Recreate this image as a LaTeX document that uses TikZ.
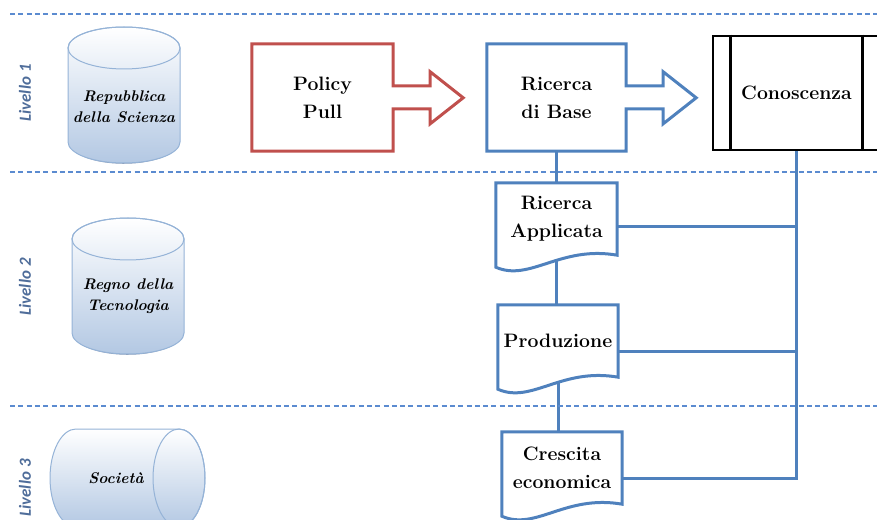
\documentclass[tikz,border=0pt]{standalone}
\usepackage{fontspec}
\newfontfamily\levelfont{Carlito}
\usetikzlibrary{positioning,calc,backgrounds}
\definecolor{lineblue}{HTML}{4F81BD}
\definecolor{pullred}{HTML}{C0504D}
\definecolor{sepblue}{HTML}{5B8BD0}
\definecolor{cylblue}{HTML}{B3C8E3}
\definecolor{cyledge}{HTML}{95B3D7}
\definecolor{cylshadow}{HTML}{8C9DB8}
\definecolor{levelgray}{HTML}{4F6D9A}

\begin{document}
\begin{tikzpicture}[x=1bp, y=-1bp, font=\bfseries\fontsize{19.5}{28}\selectfont,
  levelsep/.style={draw=sepblue, line width=1.2bp, dash pattern=on 5bp off 3.3bp},
  levellabel/.style={rotate=90, text=levelgray,
                     font=\levelfont\bfseries\itshape\fontsize{17}{17}\selectfont},
  cyl/.style={top color=white, bottom color=cylblue, draw=cyledge, line width=1bp},
  cyltext/.style={font=\bfseries\itshape\fontsize{15.5}{21}\selectfont, align=center},
  box/.style={minimum width=#1, minimum height=72bp, align=center, inner sep=0pt},
  blockarr/.style={draw=#1, line width=3bp},
  docline/.style={draw=lineblue, line width=3bp, fill=white},
  conn/.style={draw=lineblue, line width=3bp},
]
\useasboundingbox (0,0) rectangle (877,520);
% level separators
\foreach \y in {14,172,406}
  \draw[levelsep] (10,\y) -- (877,\y);
\node[levellabel] (liv1) at (25,93) {Livello 1};
\node[levellabel] (liv2) at (25,287) {Livello 2};
\node[levellabel] (liv3) at (25,488) {Livello 3};

% cylinders
\foreach \cx/\cy in {124/95, 128/286} {
  \draw[cylshadow, line width=1.2bp] (\cx-54,\cy+49)
    arc[start angle=175, end angle=5, x radius=54, y radius=21];
  \path[cyl] (\cx-56,\cy-47) -- (\cx-56,\cy+47)
    arc[start angle=180, end angle=0, x radius=56, y radius=21]
    -- (\cx+56,\cy-47)
    arc[start angle=0, end angle=-180, x radius=56, y radius=21] -- cycle;
  \draw[cyledge, line width=1bp] (\cx,\cy-47) ellipse[x radius=56, y radius=21];
}
\path[cyl] (76,429) -- (179,429)
  arc[start angle=-90, end angle=90, x radius=26, y radius=49] -- (76,527)
  arc[start angle=90, end angle=270, x radius=26, y radius=49] -- cycle;
\draw[cyledge, line width=1bp] (179,478) ellipse[x radius=26, y radius=49];
\node[cyltext] (repubblica) at (124,107) {Repubblica\\della Scienza};
\node[cyltext] (tecnologia) at (128,296) {Regno della\\Tecnologia};
\node[cyltext] (societa) at (116,478) {Società};

% top row
\node[minimum width=141bp, minimum height=107bp, align=center] (policy) at (322.5,97.5)
  {Policy\\Pull};
\node[minimum width=139bp, minimum height=107bp, align=center] (base) at (556.5,97.5)
  {Ricerca\\di Base};
\foreach \n/\c in {policy/pullred, base/lineblue}
  \draw[blockarr=\c] (\n.north west) -- (\n.north east) -- ++(0,42) -- ++(37,0)
    -- ++(0,-14) -- ++(33,26) -- ++(-33,26) -- ++(0,-15) -- ++(-37,0)
    -- (\n.south east) -- (\n.south west) -- cycle;
\node[draw=black, line width=2.6bp, minimum width=167bp, minimum height=114bp]
  (conoscenza) at (796.5,93) {Conoscenza};
\draw[black, line width=2.6bp] ([xshift=19bp]conoscenza.north west)
  -- ([xshift=19bp]conoscenza.south west);
\draw[black, line width=2.6bp] ([xshift=-19bp]conoscenza.north east)
  -- ([xshift=-19bp]conoscenza.south east);

% documents
\node[box=121bp] (applicata) at (556.5,219) {Ricerca\\Applicata};
\node[box=120bp] (produzione) at (558,341) {Produzione};
\node[box=120bp] (crescita) at (562,468) {Crescita\\economica};
\coordinate (aR) at ($(applicata.east)+(0,8)$);
\coordinate (pR) at ($(produzione.east)+(0,10)$);
\coordinate (cR) at ($(crescita.east)+(0,10)$);

\begin{scope}[on background layer]
\draw[conn] (base) -- (applicata);
\draw[conn] (applicata.south) -- (applicata.south |- produzione.north);
\draw[conn] (produzione.south) -- (produzione.south |- crescita.north);
\draw[conn] (conoscenza.south) |- (cR);
\draw[conn] (aR) -- (aR -| conoscenza.south);
\draw[conn] (pR) -- (pR -| conoscenza.south);
\foreach \n in {applicata,produzione,crescita}
  \draw[docline] (\n.south east) -- (\n.north east) -- (\n.north west)
    -- ($(\n.south west)+(0,12)$) .. controls +(34,15) and +(-57,-10) .. (\n.south east)
    -- cycle;
\end{scope}
\end{tikzpicture}
\end{document}
